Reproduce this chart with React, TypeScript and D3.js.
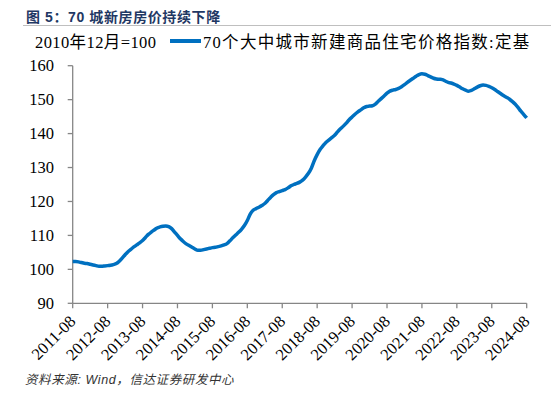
import React from 'react';
import * as d3 from 'd3';

// 70个大中城市新建商品住宅价格指数:定基 (2010年12月=100), monthly from 2011-08
const startYear = 2011;
const startMonth = 8;
const indexValues = [
  102.3, 102.3, 102.2, 102.0, 101.8, 101.7, 101.5, 101.3, 101.1, 100.9, 100.9, 101.0,
  101.1, 101.2, 101.4, 101.7, 102.4, 103.3, 104.3, 105.2, 105.9, 106.6, 107.2, 107.8,
  108.5, 109.4, 110.3, 111.0, 111.6, 112.2, 112.5, 112.7, 112.8, 112.6, 112.0, 111.0,
  110.0, 109.0, 108.2, 107.5, 107.0, 106.5, 106.0, 105.6, 105.6, 105.8, 106.0, 106.2,
  106.4, 106.5, 106.7, 106.9, 107.2, 107.6, 108.4, 109.3, 110.1, 110.9, 111.8, 112.9,
  114.4, 116.3, 117.4, 117.9, 118.3, 118.8, 119.4, 120.3, 121.2, 122.0, 122.6, 122.9,
  123.2, 123.5, 124.0, 124.6, 125.0, 125.3, 125.7, 126.3, 127.2, 128.3, 129.8, 132.0,
  133.8, 135.3, 136.4, 137.4, 138.1, 138.8, 139.5, 140.5, 141.4, 142.2, 143.1, 144.1,
  144.9, 145.7, 146.4, 147.0, 147.6, 148.0, 148.1, 148.2, 148.7, 149.5, 150.3, 151.1,
  151.9, 152.5, 152.8, 153.0, 153.3, 153.8, 154.4, 155.1, 155.7, 156.3, 156.9, 157.4,
  157.6, 157.5, 157.1, 156.7, 156.3, 156.1, 156.0, 155.9, 155.5, 155.1, 154.9, 154.6,
  154.2, 153.7, 153.2, 152.8, 152.5, 152.7, 153.2, 153.7, 154.1, 154.3, 154.2, 153.9,
  153.5, 153.0, 152.4, 151.8, 151.2, 150.7, 150.2, 149.5, 148.7, 147.7, 146.6, 145.6,
  144.6,
];
const yTicks = [90, 100, 110, 120, 130, 140, 150, 160];
const xTickLabels = [
  '2011-08', '2012-08', '2013-08', '2014-08', '2015-08', '2016-08', '2017-08',
  '2018-08', '2019-08', '2020-08', '2021-08', '2022-08', '2023-08', '2024-08',
];

const titleText = '图 5：70 城新房房价持续下降';
const baseText = '2010年12月=100';
const seriesName = '70个大中城市新建商品住宅价格指数:定基';
const sourceText = '资料来源: Wind，信达证券研发中心';

const width = 559;
const height = 397;
const serif = "'Liberation Serif', 'Times New Roman', 'Noto Sans CJK SC', serif";
const sans = "'Liberation Sans', Arial, 'Noto Sans CJK SC', sans-serif";
const blue = '#0070C0';
const axisColor = '#868686';

export default function App() {
  const x = d3.scaleLinear().domain([0, 156]).range([72.7, 526.7]);
  const y = d3.scaleLinear().domain([90, 160]).range([303.3, 65.7]);

  const line = d3
    .line<number>()
    .x((_, i) => x(i))
    .y((d) => y(d))
    .curve(d3.curveMonotoneX);

  const months = indexValues.map((_, i) => {
    const m = startMonth - 1 + i;
    return `${startYear + Math.floor(m / 12)}-${String((m % 12) + 1).padStart(2, '0')}`;
  });
  const tickIdx = xTickLabels.map((l) => months.indexOf(l));
  const [x0, x1] = x.range();
  const [y0, y1] = y.range();

  return (
    <div style={{ position: 'absolute', left: 0, top: 0 }}>
      <svg width={width} height={height} style={{ display: 'block', background: '#fff' }}>
        {/* title */}
        <text x={26} y={22} fontSize={14} fontWeight="bold" fill="#1F3864" fontFamily={sans} letterSpacing={0.6}>
          {titleText}
        </text>
        <line x1={23} x2={551} y1={25.5} y2={25.5} stroke="#BFBFBF" strokeWidth={1} />

        {/* legend */}
        <text x={35} y={48} fontSize={16.5} fontFamily={serif} fill="#000" letterSpacing={0.4}>
          {baseText}
        </text>
        <line x1={170} x2={201} y1={41} y2={41} stroke={blue} strokeWidth={4} />
        <text x={203} y={48} fontSize={16.5} fontFamily={serif} fill="#000" letterSpacing={1.3}>
          {seriesName}
        </text>

        {/* y axis */}
        <line x1={x0} x2={x0} y1={y0} y2={y1} stroke={axisColor} strokeWidth={1.3} />
        {yTicks.map((t) => (
          <g key={t}>
            <line x1={x0 - 5} x2={x0} y1={y(t)} y2={y(t)} stroke={axisColor} strokeWidth={1.3} />
            <text x={54} y={y(t)} dy="0.35em" textAnchor="end" fontSize={16.5} fontFamily={serif} fill="#000">
              {t}
            </text>
          </g>
        ))}

        {/* x axis */}
        <line x1={x0} x2={x1} y1={y0} y2={y0} stroke={axisColor} strokeWidth={1.3} />
        {xTickLabels.map((l, k) => (
          <g key={l}>
            <line x1={x(tickIdx[k])} x2={x(tickIdx[k])} y1={y0} y2={y0 + 5} stroke={axisColor} strokeWidth={1.3} />
            <text
              transform={`translate(${x(tickIdx[k]) + 4},${y0 + 19}) rotate(-45)`}
              textAnchor="end"
              fontSize={16.5}
              fontFamily={serif}
              fill="#000"
            >
              {l}
            </text>
          </g>
        ))}

        {/* series */}
        <path d={line(indexValues) ?? ''} fill="none" stroke={blue} strokeWidth={3.5} strokeLinejoin="round" />

        {/* source */}
        <text x={25} y={384} fontSize={12.5} fontStyle="italic" fill="#333" fontFamily={sans} letterSpacing={0.6}>
          {sourceText}
        </text>
      </svg>
    </div>
  );
}
